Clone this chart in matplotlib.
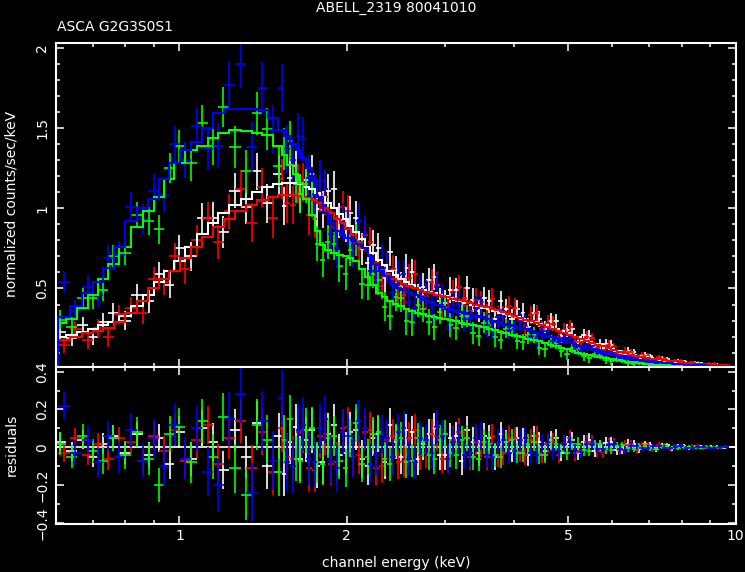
import numpy as np
import matplotlib.pyplot as plt
from matplotlib.ticker import MultipleLocator, NullFormatter

# bin centres (keV) - white & green share grid a, red & blue grid b
energy_a = [0.61, 0.64, 0.67, 0.70, 0.73, 0.76, 0.80, 0.84, 0.88, 0.92,
            0.96, 1.00, 1.05, 1.10, 1.15, 1.20, 1.26, 1.32, 1.38, 1.44,
            1.51, 1.545, 1.58, 1.62, 1.65, 1.69, 1.73, 1.77, 1.81, 1.85,
            1.90, 1.94, 1.99, 2.03, 2.08, 2.13, 2.18, 2.23, 2.28, 2.34,
            2.39, 2.45, 2.50, 2.56, 2.62, 2.68, 2.74, 2.81, 2.87, 2.94,
            3.00, 3.07, 3.14, 3.22, 3.29, 3.37, 3.45, 3.53, 3.61, 3.70,
            3.78, 3.87, 3.96, 4.05, 4.14, 4.24, 4.34, 4.44, 4.54, 4.65,
            4.75, 4.86, 4.98, 5.09, 5.21, 5.33, 5.46, 5.58, 5.71, 5.85,
            5.98, 6.12, 6.26, 6.41, 6.56, 6.71, 6.87, 7.03, 7.19, 7.36,
            7.53, 7.70, 7.88, 8.07, 8.25, 8.45, 8.64, 8.84, 9.05, 9.26,
            9.48]
energy_b = [0.62, 0.65, 0.685, 0.715, 0.745, 0.78, 0.82, 0.86, 0.90, 0.94,
            0.98, 1.025, 1.075, 1.125, 1.175, 1.23, 1.29, 1.35, 1.41, 1.475,
            1.53, 1.56, 1.60, 1.635, 1.67, 1.71, 1.75, 1.79, 1.83, 1.875,
            1.92, 1.965, 2.01, 2.055, 2.105, 2.155, 2.205, 2.255, 2.31, 2.365,
            2.42, 2.475, 2.53, 2.59, 2.65, 2.71, 2.775, 2.84, 2.905, 2.97,
            3.035, 3.105, 3.18, 3.255, 3.33, 3.41, 3.49, 3.57, 3.655, 3.74,
            3.825, 3.915, 4.005, 4.095, 4.19, 4.29, 4.39, 4.49, 4.595, 4.70,
            4.805, 4.92, 5.035, 5.15, 5.27, 5.395, 5.52, 5.645, 5.78, 5.915,
            6.05, 6.19, 6.335, 6.485, 6.635, 6.79, 6.95, 7.11, 7.275, 7.445,
            7.615, 7.79, 7.975, 8.16, 8.35, 8.545, 8.74, 8.945, 9.155, 9.37,
            9.6]

# folded model (counts/sec/keV)
model_white = [0.20, 0.21, 0.23, 0.25, 0.27, 0.29, 0.33, 0.39, 0.46, 0.54,
               0.61, 0.67, 0.76, 0.84, 0.91, 0.97, 1.02, 1.06, 1.10, 1.13,
               1.15, 1.155, 1.16, 1.155, 1.15, 1.135, 1.12, 1.095, 1.07, 1.035,
               1.00, 0.965, 0.93, 0.89, 0.85, 0.805, 0.76, 0.72, 0.68, 0.645,
               0.61, 0.585, 0.56, 0.54, 0.52, 0.505, 0.49, 0.48, 0.47, 0.46,
               0.45, 0.44, 0.43, 0.42, 0.41, 0.40, 0.39, 0.38, 0.37, 0.36,
               0.35, 0.34, 0.33, 0.32, 0.31, 0.30, 0.29, 0.28, 0.27, 0.257,
               0.245, 0.232, 0.22, 0.207, 0.195, 0.18, 0.165, 0.155, 0.145, 0.132,
               0.12, 0.11, 0.10, 0.092, 0.085, 0.077, 0.07, 0.065, 0.06, 0.055,
               0.05, 0.046, 0.043, 0.039, 0.036, 0.033, 0.03, 0.028, 0.026, 0.024,
               0.022]
model_red = [0.18, 0.20, 0.22, 0.235, 0.255, 0.29, 0.35, 0.42, 0.50, 0.56,
             0.61, 0.69, 0.76, 0.82, 0.88, 0.93, 0.98, 1.02, 1.05, 1.07,
             1.08, 1.08, 1.08, 1.075, 1.07, 1.065, 1.05, 1.03, 1.00, 0.97,
             0.935, 0.905, 0.87, 0.835, 0.79, 0.75, 0.70, 0.66, 0.615, 0.59,
             0.56, 0.545, 0.53, 0.515, 0.50, 0.49, 0.48, 0.47, 0.462, 0.455,
             0.445, 0.437, 0.43, 0.42, 0.41, 0.40, 0.393, 0.385, 0.375, 0.365,
             0.355, 0.342, 0.33, 0.318, 0.305, 0.295, 0.285, 0.275, 0.262, 0.25,
             0.237, 0.223, 0.21, 0.197, 0.185, 0.17, 0.16, 0.15, 0.14, 0.128,
             0.115, 0.106, 0.097, 0.088, 0.08, 0.074, 0.068, 0.063, 0.058, 0.054,
             0.049, 0.045, 0.041, 0.038, 0.035, 0.032, 0.03, 0.028, 0.026, 0.024,
             0.022]
model_green = [0.285, 0.31, 0.38, 0.46, 0.56, 0.65, 0.76, 0.88, 0.98, 1.07,
               1.18, 1.28, 1.36, 1.39, 1.44, 1.47, 1.49, 1.48, 1.47, 1.455,
               1.39, 1.33, 1.27, 1.21, 1.16, 1.06, 0.96, 0.86, 0.77, 0.74,
               0.72, 0.71, 0.70, 0.69, 0.67, 0.62, 0.57, 0.52, 0.47, 0.445,
               0.42, 0.405, 0.39, 0.375, 0.36, 0.35, 0.34, 0.33, 0.32, 0.315,
               0.31, 0.302, 0.295, 0.287, 0.28, 0.272, 0.265, 0.257, 0.25, 0.24,
               0.23, 0.22, 0.21, 0.202, 0.195, 0.187, 0.18, 0.17, 0.16, 0.15,
               0.14, 0.13, 0.12, 0.11, 0.10, 0.092, 0.085, 0.077, 0.07, 0.064,
               0.058, 0.052, 0.047, 0.043, 0.039, 0.035, 0.032, 0.029, 0.026, 0.023,
               0.021, 0.019, 0.018, 0.016, 0.015, 0.014, 0.013, 0.012, 0.011, 0.010,
               0.009]
model_blue = [0.32, 0.39, 0.47, 0.54, 0.63, 0.76, 0.92, 1.00, 1.06, 1.18,
              1.28, 1.36, 1.41, 1.50, 1.59, 1.62, 1.62, 1.62, 1.61, 1.56,
              1.49, 1.45, 1.40, 1.36, 1.31, 1.25, 1.17, 1.07, 0.97, 0.91,
              0.86, 0.835, 0.815, 0.80, 0.78, 0.75, 0.70, 0.65, 0.61, 0.575,
              0.53, 0.505, 0.49, 0.475, 0.46, 0.445, 0.43, 0.415, 0.40, 0.385,
              0.375, 0.365, 0.355, 0.347, 0.34, 0.33, 0.32, 0.31, 0.30, 0.29,
              0.28, 0.272, 0.265, 0.255, 0.245, 0.235, 0.225, 0.215, 0.205, 0.195,
              0.185, 0.172, 0.16, 0.15, 0.14, 0.13, 0.12, 0.11, 0.10, 0.093,
              0.085, 0.077, 0.07, 0.063, 0.057, 0.052, 0.047, 0.043, 0.039, 0.036,
              0.033, 0.030, 0.028, 0.026, 0.024, 0.022, 0.02, 0.019, 0.018, 0.017,
              0.016]

# residuals (data - model)
resid_white = [0.03, -0.02, 0.04, -0.05, 0.02, 0.06, -0.03, 0.07, -0.04, 0.05,
               -0.09, 0.08, -0.06, 0.10, 0.03, -0.12, 0.09, -0.05, 0.13, -0.10,
               0.06, -0.14, 0.03, 0.11, -0.06, 0.04, 0.09, -0.10, -0.08, 0.07,
               0.12, -0.04, -0.03, 0.08, 0.09, -0.06, -0.10, 0.05, 0.07, -0.08,
               0.12, 0.03, -0.05, 0.09, 0.08, -0.06, 0.02, 0.07, 0.10, -0.04,
               -0.04, 0.05, 0.06, -0.07, 0.09, 0.03, -0.03, 0.06, 0.05, -0.05,
               0.07, 0.03, -0.02, 0.05, 0.04, -0.04, 0.06, 0.03, -0.02, 0.04,
               0.05, -0.03, 0.02, 0.04, -0.03, 0.03, 0.04, -0.02, 0.01, 0.025,
               0.03, -0.015, -0.01, 0.02, 0.02, -0.01, 0.015, 0.012, -0.008, 0.01,
               0.01, -0.006, 0.006, 0.007, -0.004, 0.004, 0.005, -0.003, 0.003, 0.002,
               -0.002]
resid_red = [-0.03, 0.05, -0.04, 0.02, -0.06, 0.05, 0.03, -0.07, 0.06, -0.02,
             0.09, -0.07, 0.04, 0.12, -0.09, 0.05, 0.14, -0.11, 0.08, -0.13,
             0.10, -0.05, -0.06, 0.08, 0.09, -0.11, -0.12, 0.06, 0.07, -0.09,
             -0.08, 0.10, 0.11, -0.05, -0.04, 0.08, 0.09, -0.11, -0.10, 0.04,
             0.06, -0.08, -0.07, 0.05, 0.09, -0.04, -0.03, 0.07, 0.06, -0.06,
             -0.06, 0.04, 0.08, 0.02, -0.05, 0.03, 0.02, -0.05, 0.06, -0.04,
             -0.03, 0.05, 0.05, -0.02, -0.04, 0.04, 0.06, -0.03, 0.02, 0.03,
             -0.04, 0.02, 0.05, -0.03, -0.02, 0.03, 0.03, -0.02, -0.025, 0.02,
             0.02, -0.012, 0.012, 0.015, -0.015, 0.01, 0.01, -0.008, 0.014, 0.006,
             -0.006, 0.005, 0.008, -0.004, 0.004, 0.005, -0.005, 0.003, 0.004, -0.002,
             0.002]
resid_green = [0.02, -0.05, 0.06, -0.02, -0.07, 0.05, -0.04, 0.08, -0.06, -0.20,
               0.07, 0.11, -0.08, 0.14, -0.05, 0.16, -0.11, -0.25, 0.12, 0.04,
               -0.13, 0.04, 0.15, -0.06, -0.07, 0.09, 0.10, -0.08, -0.09, 0.05,
               0.06, -0.07, -0.11, 0.05, 0.13, -0.09, -0.05, 0.07, 0.08, -0.06,
               -0.09, 0.04, 0.05, -0.08, -0.07, 0.05, 0.03, -0.04, -0.06, 0.04,
               0.07, -0.03, -0.04, 0.04, 0.05, -0.05, -0.06, 0.03, 0.02, -0.04,
               -0.05, 0.03, 0.04, -0.03, -0.03, 0.02, 0.03, -0.04, -0.04, 0.02,
               0.02, -0.02, -0.03, 0.02, 0.02, -0.015, -0.02, 0.015, 0.015, -0.01,
               -0.012, 0.008, 0.01, -0.006, -0.008, 0.006, 0.006, -0.005, -0.007, 0.004,
               0.004, -0.003, -0.003, 0.003, 0.004, -0.002, -0.002, 0.002, 0.002, -0.001,
               -0.001]
resid_blue = [0.22, -0.03, 0.04, -0.08, 0.06, -0.05, 0.09, -0.07, 0.05, -0.10,
              0.12, -0.06, 0.10, -0.13, -0.20, 0.15, 0.28, -0.24, 0.14, -0.07,
              0.26, -0.08, -0.10, 0.09, 0.12, -0.06, -0.08, 0.10, 0.15, -0.07,
              -0.11, 0.08, 0.06, -0.05, 0.14, 0.10, -0.09, -0.04, 0.07, 0.05,
              -0.05, 0.08, 0.10, -0.06, -0.08, 0.05, 0.04, -0.03, 0.11, 0.06,
              -0.06, 0.03, 0.05, -0.04, -0.03, 0.05, 0.06, -0.04, -0.05, 0.03,
              0.04, -0.03, -0.02, 0.04, 0.05, -0.03, -0.04, 0.02, 0.03, -0.02,
              -0.02, 0.02, 0.03, -0.02, -0.025, 0.015, 0.02, -0.01, -0.01, 0.012,
              0.015, -0.01, -0.012, 0.007, 0.008, -0.006, -0.006, 0.005, 0.007, -0.003,
              -0.004, 0.004, 0.005, -0.002, -0.003, 0.002, 0.003, -0.002, -0.002, 0.001,
              0.001]

# 1-sigma errors
err_white = [0.05, 0.05, 0.05, 0.055, 0.055, 0.06, 0.06, 0.065, 0.07, 0.075,
             0.08, 0.085, 0.09, 0.095, 0.10, 0.10, 0.11, 0.11, 0.115, 0.12,
             0.12, 0.12, 0.12, 0.12, 0.12, 0.12, 0.12, 0.115, 0.115, 0.11,
             0.11, 0.11, 0.11, 0.105, 0.105, 0.10, 0.10, 0.095, 0.095, 0.09,
             0.09, 0.09, 0.09, 0.085, 0.085, 0.085, 0.085, 0.08, 0.08, 0.08,
             0.08, 0.08, 0.075, 0.075, 0.075, 0.075, 0.07, 0.07, 0.07, 0.068,
             0.065, 0.062, 0.06, 0.06, 0.06, 0.057, 0.055, 0.052, 0.05, 0.048,
             0.045, 0.042, 0.04, 0.039, 0.038, 0.036, 0.035, 0.032, 0.03, 0.028,
             0.027, 0.025, 0.024, 0.022, 0.02, 0.019, 0.018, 0.016, 0.015, 0.014,
             0.013, 0.012, 0.011, 0.0105, 0.01, 0.0095, 0.009, 0.0085, 0.008, 0.0075,
             0.007]
err_red = [0.05, 0.05, 0.055, 0.055, 0.06, 0.06, 0.065, 0.07, 0.075, 0.08,
           0.085, 0.09, 0.095, 0.10, 0.105, 0.11, 0.115, 0.12, 0.12, 0.125,
           0.125, 0.125, 0.12, 0.12, 0.12, 0.12, 0.115, 0.115, 0.11, 0.11,
           0.11, 0.105, 0.105, 0.10, 0.10, 0.095, 0.095, 0.09, 0.09, 0.09,
           0.09, 0.087, 0.085, 0.085, 0.085, 0.082, 0.08, 0.08, 0.08, 0.078,
           0.075, 0.075, 0.075, 0.072, 0.07, 0.07, 0.07, 0.068, 0.065, 0.065,
           0.065, 0.062, 0.06, 0.058, 0.055, 0.055, 0.055, 0.052, 0.05, 0.047,
           0.045, 0.043, 0.042, 0.04, 0.038, 0.036, 0.034, 0.032, 0.03, 0.028,
           0.027, 0.025, 0.024, 0.022, 0.021, 0.02, 0.018, 0.017, 0.016, 0.015,
           0.014, 0.013, 0.012, 0.0115, 0.011, 0.0105, 0.01, 0.0095, 0.009, 0.0085,
           0.008]
err_green = [0.06, 0.06, 0.065, 0.065, 0.07, 0.07, 0.075, 0.08, 0.085, 0.09,
             0.095, 0.10, 0.11, 0.115, 0.12, 0.125, 0.13, 0.135, 0.135, 0.13,
             0.13, 0.13, 0.125, 0.12, 0.12, 0.12, 0.115, 0.11, 0.11, 0.105,
             0.105, 0.10, 0.10, 0.10, 0.10, 0.095, 0.095, 0.09, 0.09, 0.09,
             0.09, 0.085, 0.085, 0.085, 0.085, 0.08, 0.08, 0.08, 0.08, 0.078,
             0.075, 0.075, 0.075, 0.072, 0.07, 0.068, 0.065, 0.065, 0.065, 0.062,
             0.06, 0.057, 0.055, 0.052, 0.05, 0.05, 0.05, 0.047, 0.045, 0.042,
             0.04, 0.038, 0.036, 0.034, 0.032, 0.03, 0.028, 0.026, 0.025, 0.023,
             0.022, 0.02, 0.019, 0.018, 0.017, 0.016, 0.015, 0.014, 0.013, 0.012,
             0.011, 0.0105, 0.01, 0.0095, 0.009, 0.0085, 0.008, 0.0075, 0.007, 0.0065,
             0.006]
err_blue = [0.07, 0.07, 0.075, 0.075, 0.08, 0.085, 0.09, 0.095, 0.10, 0.105,
            0.11, 0.115, 0.12, 0.13, 0.14, 0.145, 0.15, 0.155, 0.16, 0.155,
            0.15, 0.15, 0.145, 0.145, 0.14, 0.14, 0.13, 0.13, 0.125, 0.125,
            0.12, 0.12, 0.115, 0.115, 0.11, 0.11, 0.105, 0.105, 0.10, 0.10,
            0.095, 0.095, 0.09, 0.09, 0.09, 0.09, 0.085, 0.085, 0.085, 0.085,
            0.08, 0.08, 0.075, 0.075, 0.075, 0.075, 0.075, 0.07, 0.07, 0.065,
            0.06, 0.06, 0.06, 0.058, 0.055, 0.052, 0.05, 0.048, 0.045, 0.043,
            0.042, 0.04, 0.038, 0.036, 0.034, 0.032, 0.03, 0.028, 0.027, 0.025,
            0.024, 0.022, 0.021, 0.019, 0.018, 0.017, 0.016, 0.015, 0.014, 0.013,
            0.012, 0.0115, 0.011, 0.0105, 0.01, 0.0095, 0.009, 0.0085, 0.008, 0.0075,
            0.007]

series = [
    (energy_a, model_white, resid_white, err_white, '#ffffff'),
    (energy_b, model_red, resid_red, err_red, '#ff0000'),
    (energy_a, model_green, resid_green, err_green, '#00ff00'),
    (energy_b, model_blue, resid_blue, err_blue, '#0000ff'),
]


def bin_edges(e):
    e = np.asarray(e)
    mid = np.sqrt(e[:-1] * e[1:])
    return np.concatenate([[e[0] ** 2 / mid[0]], mid, [e[-1] ** 2 / mid[-1]]])


W, H = 745, 572
fig = plt.figure(figsize=(W / 100, H / 100), dpi=100, facecolor='black')
left, right = 56 / W, 735.6 / W
ax1 = fig.add_axes([left, 1 - 366.7 / H, right - left, (366.7 - 42.7) / H])
ax2 = fig.add_axes([left, 1 - 524 / H, right - left, (524 - 366.7) / H])

for ax in (ax1, ax2):
    ax.set_facecolor('black')
    ax.set_xscale('log')
    ax.set_xlim(0.6, 10)
    for s in ax.spines.values():
        s.set_color('white')
        s.set_linewidth(1.5)
        s.set_zorder(5)
    ax.set_xticks([1, 2, 5, 10])
    ax.set_xticks([0.7, 0.8, 0.9, 3, 4, 6, 7, 8, 9], minor=True)
    ax.xaxis.set_minor_formatter(NullFormatter())
    ax.yaxis.set_minor_locator(MultipleLocator(0.1))
    ax.tick_params(which='both', direction='in', top=True, right=True,
                   colors='white', labelsize=10, width=1.1)
    ax.tick_params(which='major', length=6)
    ax.tick_params(which='minor', length=3)
    ax.tick_params(axis='y', labelrotation=90, pad=5)

ax1.set_ylim(0.0125, 2.031)
ax1.set_yticks([0.5, 1, 1.5, 2], labels=['0.5', '1', '1.5', '2'])
ax1.tick_params(labelbottom=False)
ax2.set_ylim(-0.406, 0.4265)
ax2.set_yticks([-0.4, -0.2, 0, 0.2, 0.4], labels=['\u22120.4', '\u22120.2', '0', '0.2', '0.4'])
ax2.set_xticklabels(['1', '2', '5', '10'])
for ax in (ax1, ax2):
    for lbl in ax.get_yticklabels():
        lbl.set_va('center')

ax2.axhline(0, color='white', lw=1.2, zorder=1)

# data crosses, then model steps
for e, m, r, err, c in series:
    e = np.asarray(e)
    edges = bin_edges(e)
    xerr = [e - edges[:-1], edges[1:] - e]
    data = np.asarray(m) + np.asarray(r)
    ax1.errorbar(e, data, yerr=err, xerr=xerr, fmt='none', ecolor=c,
                 elinewidth=1.2, capsize=0, zorder=2)
    ax2.errorbar(e, r, yerr=err, xerr=xerr, fmt='none', ecolor=c,
                 elinewidth=1.2, capsize=0, zorder=2)
for e, m, r, err, c in series:
    ax1.stairs(m, bin_edges(e), color=c, lw=1.5, zorder=3)

fig.text(396 / W, 1 - 8 / H, 'ABELL_2319 80041010', color='white',
         fontsize=10, ha='center', va='center')
fig.text(57 / W, 1 - 27 / H, 'ASCA G2G3S0S1', color='white',
         fontsize=10, ha='left', va='center')
fig.text(12 / W, 1 - 204 / H, 'normalized counts/sec/keV', color='white',
         fontsize=10, rotation=90, ha='center', va='center')
fig.text(12 / W, 1 - 445 / H, 'residuals', color='white',
         fontsize=10, rotation=90, ha='center', va='center')
fig.text(396 / W, 1 - 563 / H, 'channel energy (keV)', color='white',
         fontsize=10, ha='center', va='center')

fig.savefig('out.png', dpi=100, facecolor='black')
